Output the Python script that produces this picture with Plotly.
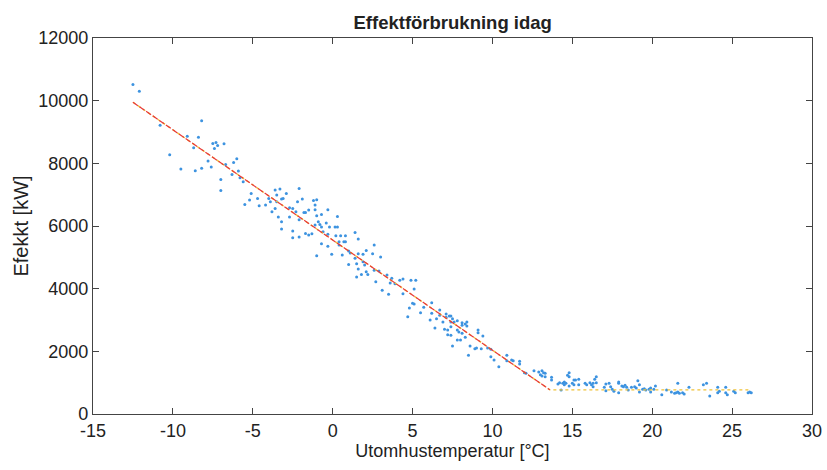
import plotly.graph_objects as go

# Measured data: outdoor temperature [°C] and power [kW]
temp = [
    -12.5, -12.1, -10.8, -8.2, -9.1, -8.4, -8.7, -7.5, -7.3, -7.2, -6.8, -7.4, -10.2, -9.5, -8.6,
    -8.2, -7.6, -7.8, -6.7, -6.2, -6.0, -6.3, -5.9, -7.0, -7.0, -5.8,
    -5.6, -5.5, -5.1, -5.2, -4.7, -4.6, -4.2, -4.0, -3.9, -3.8, -3.6, -3.5, -3.3, -3.2, -3.1, -2.9,
    -3.6, -3.4, -3.2, -3.2, -3.5, -2.7, -2.5, -2.7, -2.1, -1.9, -2.2, -2.3, -2.1, -2.5, -2.5, -2.1,
    -1.8, -1.7, -1.5, -1.7, -1.5, -1.3, -1.2, -1.0, -1.1, -1.1, -1.0, -0.9, -0.8, -1.1, -0.7, -0.6,
    -0.4, -0.3, -0.7, -0.7, -1.0, -0.3, -0.3, -0.2,
    0.3, 0.15, 0.3, 0.2, 0.5, 0.8, 0.4, 0.4, 0.7, 0.8, -0.06, 0.6, 1.0, 1.4, 1.6, 1.1, 1.6, 1.9,
    1.4, 1.0, 1.5, 1.9, 2.0, 2.1, 2.5, 2.6, 3.0, 1.6, 1.8, 1.5, 2.1, 2.2, 2.6, 2.9, 3.4, 3.7, 3.6,
    4.2, 4.4, 3.9, 4.9, 5.2, 5.1, 2.7, 3.1, 3.5, 4.4,
    5.0, 4.8, 5.1, 4.7,
    6.2, 5.7, 5.5, 6.2, 6.1, 6.5, 6.4, 6.7, 6.7, 6.9, 7.1, 7.1, 7.3, 7.4, 7.5, 7.4, 7.0, 7.2, 7.2,
    7.4, 7.4, 7.6, 7.8, 8.1, 8.1, 8.3, 8.4, 8.4, 7.8, 7.9, 8.1, 8.3, 7.8, 8.0, 7.5, 9.1, 9.1, 9.4,
    8.6, 8.9, 9.0, 9.3, 9.7, 9.9, 8.5, 9.9, 10.1, 10.4, 10.9, 10.9, 11.2, 11.3, 11.7, 11.7,
    12.0, 12.1, 12.6, 12.9, 13.1, 13.2, 13.0, 13.1, 13.3, 13.3, 13.7, 13.7, 14.8, 14.7, 14.8, 14.1,
    14.2, 14.4, 14.5, 14.5, 14.3, 14.6, 14.8, 15.0, 15.1, 15.2, 15.4, 15.1, 15.4, 15.8, 15.9, 16.1,
    16.2, 16.3, 16.4, 16.5, 16.5, 16.3, 17.0, 17.1, 17.3, 17.4, 17.1, 17.5, 17.6, 17.9, 17.9, 18.1,
    18.2, 18.3, 18.4, 18.5, 17.9,
    18.7, 18.9, 19.0, 19.1, 19.2, 19.2, 19.4, 19.5, 19.6, 19.8, 19.9, 19.9, 20.1, 20.2, 20.6, 20.9,
    21.2, 21.4, 21.5, 21.6, 21.6, 21.7, 21.9, 22.0, 22.3, 23.2, 23.4, 23.6, 24.1, 24.1, 24.2, 24.6,
    24.6, 24.7, 25.1, 25.2, 26.0, 26.1, 26.2,
]
power = [
    10517, 10304, 9219, 9357, 8868, 8836, 8496, 8635, 8667, 8572, 8623, 8476, 8272, 7816, 7761,
    7847, 7879, 8071, 7965, 8029, 8144, 7646, 7752, 7487, 7136, 7538,
    7410, 6689, 7040, 6827, 6881, 6645, 6667, 6881, 6772, 6453, 7146, 6986, 7178, 6859, 6881, 7040,
    6560, 6284, 6134, 5901, 6772, 6582, 6560, 6284, 7199, 6859, 6772, 6453, 6198, 5838, 5624, 5646,
    6434, 6434, 6508, 5764, 5710, 5752, 6817, 6836, 6667, 6517, 6326, 6134, 6051, 6029, 5965, 5816,
    6093, 6517, 6370, 5433, 5050, 5350, 5733, 5965,
    6306, 5965, 5965, 5688, 5688, 5688, 5497, 5391, 5497, 5497, 5095, 5072, 5200, 5796, 5582, 5136,
    5114, 5095, 4967, 4775, 4795, 4858, 4753, 5222, 5114, 5391, 5008, 4626, 4456, 4370, 4539, 4456,
    4584, 4562, 4434, 4329, 4179, 4265, 4307, 4157, 4265, 4265, 3988, 4221, 3946, 3818, 3838,
    3531, 3381, 3509, 3104,
    3550, 3404, 3232, 3212, 2999, 3040, 2743, 3318, 3149, 2935, 3190, 3085, 3126, 3126, 3040, 2935,
    2702, 2680, 2530, 2511, 2785, 2935, 2976, 2912, 2830, 2871, 2807, 2935, 2680, 2616, 2574, 2447,
    2361, 2361, 2169, 2680, 2595, 2488, 2169, 2084, 2105, 2084, 2105, 2063, 1872, 1829, 1723, 1510,
    1872, 1701, 1723, 1701, 1680, 1595,
    1319, 1297, 1382, 1340, 1382, 1319, 1255, 1213, 1297, 1191, 1085, 1170, 1319, 1234, 1191, 957,
    999, 978, 1021, 935, 766, 978, 893, 978, 1085, 1085, 1106, 935, 935, 978, 935, 999,
    935, 978, 1106, 1191, 999, 872, 851, 957, 978, 872, 744, 787, 723, 978, 1021, 893,
    872, 914, 851, 766, 680,
    851, 872, 829, 1063, 935, 702, 787, 808, 766, 787, 702, 829, 787, 893, 617, 766,
    702, 659, 680, 978, 702, 659, 680, 638, 851, 935, 978, 574, 851, 680, 723, 851,
    680, 617, 723, 680, 680, 702, 680,
]

# Piecewise fitted model
fit_temp = [-12.5, 13.6, 26.2]
fit_power = [9950, 770, 770]

x_ticks = [-15, -10, -5, 0, 5, 10, 15, 20, 25, 30]
y_ticks = [0, 2000, 4000, 6000, 8000, 10000, 12000]

fig = go.Figure()
fig.add_trace(go.Scatter(
    x=temp, y=power, mode="markers",
    marker=dict(color="#3d93e0", size=3, line=dict(width=0)),
    showlegend=False, hoverinfo="skip",
))
fig.add_trace(go.Scatter(
    x=fit_temp, y=fit_power, mode="lines",
    line=dict(color="#f0c238", width=1.4, dash="dot"),
    showlegend=False, hoverinfo="skip",
))
fig.add_trace(go.Scatter(
    x=fit_temp[:2], y=fit_power[:2], mode="lines",
    line=dict(color="#e8383a", width=1.2, dash="6px,2px"),
    showlegend=False, hoverinfo="skip",
))

font = "Liberation Sans, Arial, sans-serif"
fig.update_layout(
    width=827, height=470,
    margin=dict(l=93, r=15, t=38, b=56, autoexpand=False),
    paper_bgcolor="white", plot_bgcolor="white",
    font=dict(family=font, size=18, color="#222"),
    title=dict(text="<b>Effektförbrukning idag</b>", x=0.5474, xanchor="center",
               y=0.953, yanchor="middle", font=dict(family=font, size=18.5, color="#222")),
)
axis_common = dict(
    showline=True, linecolor="#444", linewidth=1.3, mirror="ticks",
    ticks="inside", ticklen=6, tickcolor="#444", tickwidth=1,
    showgrid=False, zeroline=False, automargin=False,
    tickfont=dict(family=font, size=18, color="#222"),
)
fig.update_xaxes(
    range=[-15, 30], tickvals=x_ticks, ticktext=[str(v) for v in x_ticks],
    ticklabeloverflow="allow",
    title=dict(text="Utomhustemperatur [°C]", font=dict(family=font, size=18, color="#222"),
               standoff=0),
    **axis_common,
)
fig.update_yaxes(
    range=[0, 12000], tickvals=y_ticks, ticktext=[str(v) for v in y_ticks],
    title=dict(text="Efekkt [kW]", font=dict(family=font, size=20, color="#222"),
               standoff=4),
    **axis_common,
)

# Remove the browser's default body margin so the figure fills the 827x470 window.
fig.write_html(
    "out.html",
    config={"displayModeBar": False},
    post_script="document.body.style.margin='0';document.body.style.overflow='hidden';",
)
